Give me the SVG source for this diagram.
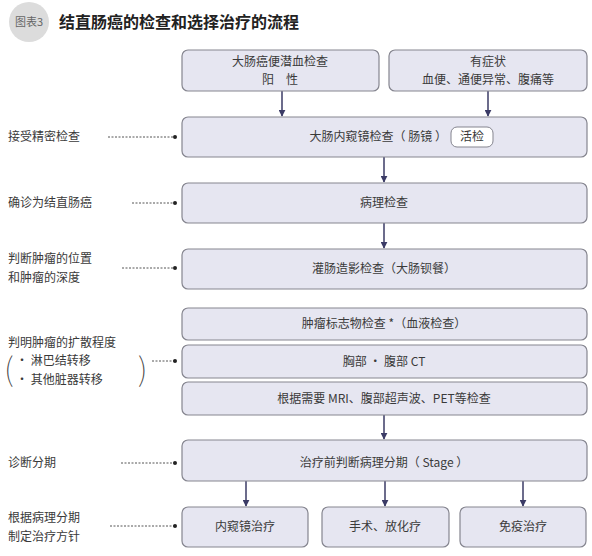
<svg xmlns="http://www.w3.org/2000/svg" width="592" height="556" viewBox="0 0 592 556">
<defs>
<style>
text{font-family:"Noto Sans CJK SC","Noto Sans",sans-serif;font-size:12px;fill:#3a3a3a}
.box{fill:#e6e6f1;stroke:#85858f;stroke-width:1.2}
.c{text-anchor:middle}
.arr{stroke:#3b3b66;stroke-width:1.5;fill:none;marker-end:url(#ah)}
.dot{stroke:#555;stroke-width:1;stroke-dasharray:2 1.5;fill:none}
.pt{fill:#222}
.par{font-size:32px;font-weight:100;fill:#444}
</style>
<marker id="ah" viewBox="0 0 10 10" refX="9" refY="5" markerWidth="7" markerHeight="7" markerUnits="userSpaceOnUse" orient="auto">
<path d="M0,0 L10,5 L0,10 z" fill="#3b3b66"/>
</marker>
</defs>
<rect width="592" height="556" fill="#fff"/>
<g id="title">
<circle cx="29" cy="22" r="20" fill="#dcdcdc"/>
<text x="29" y="26" class="c" style="font-size:11px;fill:#666">图表3</text>
<text x="59" y="28" style="font-size:16px;font-weight:bold;fill:#222">结直肠癌的检查和选择治疗的流程</text>
</g>
<g id="connectors">
<line class="arr" x1="282" y1="91" x2="282" y2="116"/>
<line class="arr" x1="488" y1="91" x2="488" y2="116"/>
<line class="arr" x1="384" y1="157" x2="384" y2="182"/>
<line class="arr" x1="384" y1="223" x2="384" y2="248"/>
<line class="arr" x1="384" y1="415" x2="384" y2="439"/>
<line class="arr" x1="246" y1="481" x2="246" y2="506"/>
<line class="arr" x1="385" y1="481" x2="385" y2="506"/>
<line class="arr" x1="523" y1="481" x2="523" y2="506"/>
<line class="dot" x1="108" y1="137" x2="174" y2="137"/><circle class="pt" cx="175" cy="137" r="2"/>
<line class="dot" x1="132" y1="203" x2="174" y2="203"/><circle class="pt" cx="175" cy="203" r="2"/>
<line class="dot" x1="122" y1="268" x2="174" y2="268"/><circle class="pt" cx="175" cy="268" r="2"/>
<line class="dot" x1="152" y1="361" x2="174" y2="361"/><circle class="pt" cx="175" cy="361" r="2"/>
<line class="dot" x1="121" y1="463" x2="174" y2="463"/><circle class="pt" cx="175" cy="463" r="2"/>
<line class="dot" x1="110" y1="526" x2="174" y2="526"/><circle class="pt" cx="175" cy="526" r="2"/>
</g>
<g id="n_occult">
<rect class="box" x="182" y="50" width="197" height="41" rx="6"/>
<text class="c" x="280" y="66">大肠癌便潜血检查</text>
<text class="c" x="280" y="84">阳　性</text>
</g>
<g id="n_symptom">
<rect class="box" x="389" y="50" width="198" height="41" rx="6"/>
<text class="c" x="488" y="66">有症状</text>
<text class="c" x="488" y="84">血便、通便异常、腹痛等</text>
</g>
<g id="n_endoscopy">
<rect class="box" x="182" y="117" width="405" height="40" rx="6"/>
<text x="447" y="141" text-anchor="end">大肠内窥镜检查（ 肠镜 ）</text>
<rect x="451" y="127" width="42" height="20" rx="6" fill="#fff" stroke="#85858f" stroke-width="1"/>
<text class="c" x="472" y="141">活检</text>
</g>
<g id="n_pathology">
<rect class="box" x="182" y="183" width="405" height="40" rx="6"/>
<text class="c" x="384" y="207">病理检查</text>
</g>
<g id="n_enema">
<rect class="box" x="182" y="249" width="405" height="40" rx="6"/>
<text class="c" x="384" y="273">灌肠造影检查（大肠钡餐）</text>
</g>
<g id="n_marker">
<rect class="box" x="182" y="308" width="405" height="32" rx="6"/>
<text class="c" x="384" y="328">肿瘤标志物检查 *（血液检查）</text>
</g>
<g id="n_ct">
<rect class="box" x="182" y="345" width="405" height="33" rx="6"/>
<text class="c" x="384" y="366">胸部 · 腹部 CT</text>
</g>
<g id="n_mri">
<rect class="box" x="182" y="382" width="405" height="33" rx="6"/>
<text class="c" x="384" y="403">根据需要 MRI、腹部超声波、PET等检查</text>
</g>
<g id="n_stage">
<rect class="box" x="182" y="440" width="405" height="41" rx="6"/>
<text class="c" x="384" y="467">治疗前判断病理分期（ Stage ）</text>
</g>
<g id="n_endo_treat">
<rect class="box" x="182" y="507" width="126" height="40" rx="6"/>
<text class="c" x="245" y="531">内窥镜治疗</text>
</g>
<g id="n_surgery">
<rect class="box" x="322" y="507" width="127" height="40" rx="6"/>
<text class="c" x="385" y="531">手术、放化疗</text>
</g>
<g id="n_immuno">
<rect class="box" x="460" y="507" width="126" height="40" rx="6"/>
<text class="c" x="523" y="531">免疫治疗</text>
</g>
<g id="labels">
<text x="8" y="141">接受精密检查</text>
<text x="8" y="207">确诊为结直肠癌</text>
<text x="8" y="263">判断肿瘤的位置</text>
<text x="8" y="282">和肿瘤的深度</text>
<text x="8" y="347">判明肿瘤的扩散程度</text>
<text x="4" y="381" class="par">(</text>
<text x="16" y="365">· 淋巴结转移</text>
<text x="16" y="384">· 其他脏器转移</text>
<text x="138" y="381" class="par">)</text>
<text x="8" y="467">诊断分期</text>
<text x="8" y="522">根据病理分期</text>
<text x="8" y="541">制定治疗方针</text>
</g>
</svg>
